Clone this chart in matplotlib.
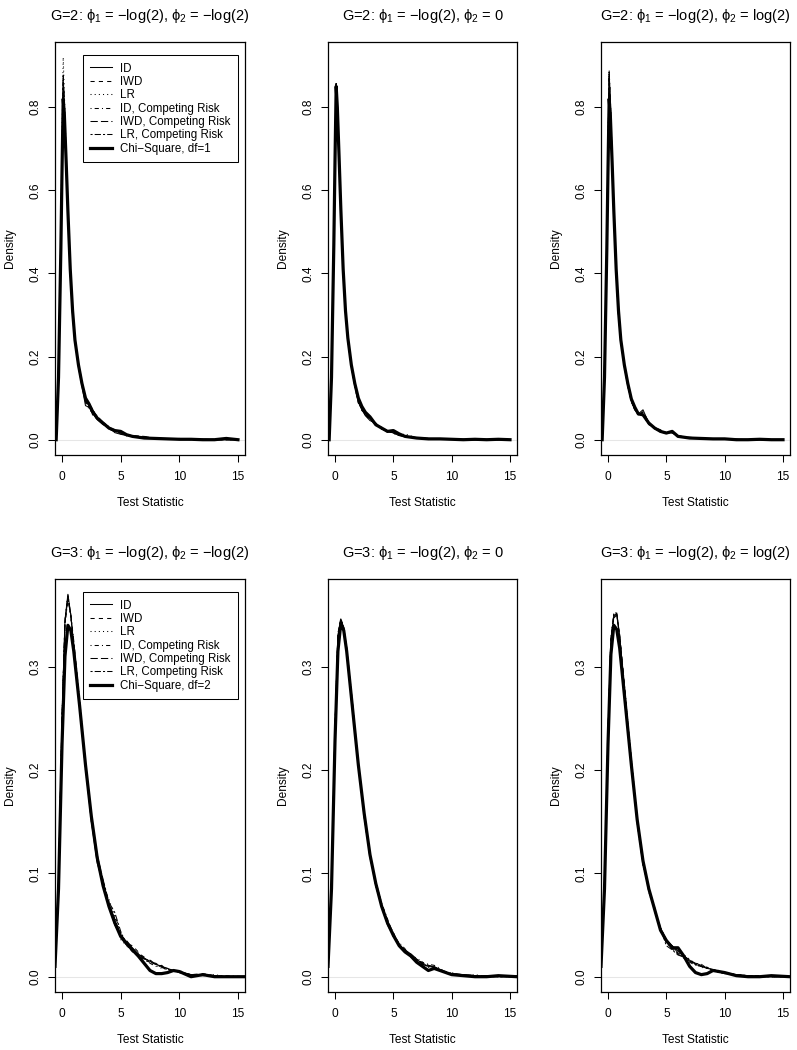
import matplotlib
matplotlib.use("Agg")
import matplotlib.pyplot as plt

# shared evaluation grids (test statistic)
X_TOP = [-0.5, -0.3, -0.1, 0.0, 0.1, 0.2, 0.35, 0.5, 0.7, 0.9, 1.1, 1.4, 1.7, 2.0, 2.3, 2.6,
         3.0, 3.5, 4.0, 4.5, 5.0, 5.5, 6.0, 7.0, 8.0, 9.0, 10.0, 11.0, 12.0, 13.0, 14.0, 15.0]
X_BOT = [-0.6, -0.3, 0.0, 0.25, 0.5, 0.75, 1.0, 1.5, 2.0, 2.5, 3.0, 3.5, 4.0, 4.5, 5.0, 5.5,
         6.0, 6.5, 7.0, 7.5, 8.0, 8.5, 9.0, 9.5, 10.0, 11.0, 12.0, 13.0, 14.0, 15.6]

SERIES_LABELS = ["ID", "IWD", "LR", "ID, Competing Risk", "IWD, Competing Risk",
                 "LR, Competing Risk"]

TITLES = [
    "G=2: $\\phi_1$ = \u2212log(2), $\\phi_2$ = \u2212log(2)",
    "G=2: $\\phi_1$ = \u2212log(2), $\\phi_2$ = 0",
    "G=2: $\\phi_1$ = \u2212log(2), $\\phi_2$ = log(2)",
    "G=3: $\\phi_1$ = \u2212log(2), $\\phi_2$ = \u2212log(2)",
    "G=3: $\\phi_1$ = \u2212log(2), $\\phi_2$ = 0",
    "G=3: $\\phi_1$ = \u2212log(2), $\\phi_2$ = log(2)",
]

# ---- G=2, phi2 = -log(2)
P1_ID = [0.00, 0.14, 0.47, 0.68, 0.86, 0.80, 0.68, 0.55, 0.40, 0.30, 0.235, 0.175, 0.128, 0.082, 0.078, 0.064,
         0.048, 0.036, 0.030, 0.017, 0.013, 0.010, 0.008, 0.006, 0.003, 0.001, 0.003, 0.001, 0.001, 0.000, 0.000, 0.000]
P1_IWD = [0.00, 0.15, 0.48, 0.69, 0.87, 0.81, 0.68, 0.54, 0.40, 0.31, 0.240, 0.180, 0.140, 0.095, 0.090, 0.070,
          0.055, 0.042, 0.025, 0.020, 0.016, 0.012, 0.010, 0.007, 0.002, 0.002, 0.002, 0.000, 0.000, 0.001, 0.000, 0.000]
P1_LR = [0.00, 0.16, 0.50, 0.74, 0.92, 0.83, 0.69, 0.55, 0.40, 0.30, 0.235, 0.180, 0.135, 0.088, 0.080, 0.075,
         0.050, 0.038, 0.032, 0.022, 0.015, 0.009, 0.008, 0.005, 0.004, 0.002, 0.001, 0.001, 0.000, 0.000, 0.000, 0.000]
P1_ID_CR = [0.00, 0.14, 0.46, 0.67, 0.85, 0.80, 0.68, 0.56, 0.41, 0.31, 0.240, 0.175, 0.130, 0.098, 0.072, 0.066,
            0.058, 0.040, 0.026, 0.025, 0.017, 0.011, 0.007, 0.006, 0.004, 0.001, 0.002, 0.002, 0.000, 0.000, 0.000, 0.000]
P1_IWD_CR = [0.00, 0.15, 0.47, 0.68, 0.86, 0.80, 0.67, 0.55, 0.41, 0.31, 0.245, 0.185, 0.140, 0.090, 0.085, 0.060,
             0.050, 0.044, 0.027, 0.020, 0.018, 0.012, 0.009, 0.008, 0.003, 0.002, 0.001, 0.001, 0.001, 0.000, 0.000, 0.000]
P1_LR_CR = [0.00, 0.15, 0.48, 0.70, 0.88, 0.81, 0.68, 0.55, 0.40, 0.30, 0.240, 0.180, 0.132, 0.092, 0.080, 0.072,
            0.054, 0.036, 0.030, 0.021, 0.014, 0.011, 0.009, 0.005, 0.004, 0.002, 0.002, 0.000, 0.001, 0.000, 0.000, 0.000]
P1_CHI = [0.00, 0.15, 0.46, 0.65, 0.82, 0.78, 0.67, 0.55, 0.41, 0.31, 0.240, 0.180, 0.135, 0.100, 0.086, 0.068,
          0.052, 0.040, 0.028, 0.022, 0.020, 0.012, 0.008, 0.004, 0.003, 0.002, 0.001, 0.001, 0.000, 0.000, 0.003, 0.000]

# ---- G=2, phi2 = 0
P2_ID = [0.00, 0.15, 0.47, 0.67, 0.855, 0.80, 0.68, 0.55, 0.41, 0.31, 0.240, 0.175, 0.130, 0.092, 0.072, 0.058,
         0.046, 0.040, 0.025, 0.022, 0.016, 0.010, 0.008, 0.005, 0.003, 0.001, 0.002, 0.000, 0.000, 0.000, 0.000, 0.000]
P2_IWD = [0.00, 0.15, 0.47, 0.68, 0.858, 0.80, 0.68, 0.55, 0.41, 0.31, 0.242, 0.178, 0.128, 0.088, 0.075, 0.062,
          0.050, 0.035, 0.028, 0.018, 0.020, 0.012, 0.007, 0.004, 0.002, 0.002, 0.001, 0.001, 0.000, 0.000, 0.000, 0.000]
P2_LR = [0.00, 0.15, 0.48, 0.68, 0.860, 0.80, 0.68, 0.55, 0.41, 0.31, 0.240, 0.176, 0.132, 0.090, 0.074, 0.060,
         0.052, 0.038, 0.026, 0.020, 0.018, 0.010, 0.014, 0.004, 0.003, 0.001, 0.001, 0.000, 0.000, 0.000, 0.000, 0.000]
P2_ID_CR = [0.00, 0.15, 0.47, 0.67, 0.852, 0.80, 0.68, 0.55, 0.41, 0.31, 0.243, 0.180, 0.134, 0.094, 0.070, 0.064,
            0.055, 0.036, 0.030, 0.021, 0.015, 0.011, 0.009, 0.005, 0.002, 0.002, 0.002, 0.001, 0.000, 0.000, 0.000, 0.000]
P2_IWD_CR = [0.00, 0.15, 0.47, 0.67, 0.856, 0.80, 0.68, 0.55, 0.41, 0.31, 0.241, 0.177, 0.131, 0.091, 0.076, 0.059,
             0.048, 0.039, 0.027, 0.019, 0.017, 0.013, 0.008, 0.005, 0.003, 0.001, 0.001, 0.001, 0.000, 0.001, 0.000, 0.000]
P2_LR_CR = [0.00, 0.15, 0.47, 0.68, 0.857, 0.80, 0.68, 0.55, 0.41, 0.31, 0.240, 0.176, 0.129, 0.089, 0.073, 0.061,
            0.051, 0.037, 0.026, 0.022, 0.016, 0.010, 0.008, 0.004, 0.003, 0.002, 0.001, 0.000, 0.000, 0.000, 0.000, 0.000]
P2_CHI = [0.00, 0.15, 0.47, 0.67, 0.850, 0.80, 0.68, 0.555, 0.41, 0.31, 0.245, 0.180, 0.135, 0.100, 0.080, 0.066,
          0.055, 0.036, 0.028, 0.020, 0.022, 0.014, 0.008, 0.004, 0.002, 0.002, 0.001, 0.000, 0.001, 0.000, 0.001, 0.000]

# ---- G=2, phi2 = log(2)
P3_ID = [0.00, 0.15, 0.48, 0.70, 0.88, 0.81, 0.68, 0.55, 0.40, 0.30, 0.235, 0.175, 0.128, 0.095, 0.072, 0.062,
         0.072, 0.040, 0.028, 0.018, 0.016, 0.020, 0.009, 0.005, 0.003, 0.002, 0.001, 0.001, 0.000, 0.000, 0.000, 0.000]
P3_IWD = [0.00, 0.15, 0.48, 0.70, 0.885, 0.81, 0.68, 0.55, 0.40, 0.30, 0.238, 0.178, 0.130, 0.090, 0.075, 0.058,
          0.068, 0.042, 0.026, 0.020, 0.018, 0.016, 0.010, 0.004, 0.003, 0.002, 0.001, 0.000, 0.000, 0.000, 0.000, 0.000]
P3_LR = [0.00, 0.16, 0.49, 0.71, 0.89, 0.82, 0.69, 0.55, 0.40, 0.30, 0.236, 0.176, 0.132, 0.092, 0.078, 0.060,
         0.062, 0.038, 0.030, 0.022, 0.015, 0.018, 0.008, 0.005, 0.002, 0.001, 0.002, 0.000, 0.000, 0.000, 0.000, 0.000]
P3_ID_CR = [0.00, 0.15, 0.47, 0.69, 0.87, 0.81, 0.68, 0.55, 0.41, 0.30, 0.240, 0.180, 0.134, 0.096, 0.070, 0.064,
            0.058, 0.036, 0.029, 0.024, 0.014, 0.019, 0.007, 0.006, 0.003, 0.002, 0.001, 0.001, 0.000, 0.000, 0.000, 0.000]
P3_IWD_CR = [0.00, 0.15, 0.48, 0.70, 0.88, 0.81, 0.68, 0.55, 0.40, 0.30, 0.237, 0.177, 0.129, 0.093, 0.074, 0.060,
             0.066, 0.041, 0.027, 0.019, 0.017, 0.017, 0.009, 0.004, 0.002, 0.001, 0.001, 0.001, 0.000, 0.000, 0.000, 0.000]
P3_LR_CR = [0.00, 0.15, 0.48, 0.70, 0.875, 0.81, 0.68, 0.55, 0.40, 0.30, 0.239, 0.179, 0.131, 0.094, 0.073, 0.063,
            0.060, 0.039, 0.028, 0.021, 0.016, 0.018, 0.008, 0.005, 0.003, 0.002, 0.001, 0.000, 0.000, 0.000, 0.000, 0.000]
P3_CHI = [0.00, 0.15, 0.46, 0.65, 0.82, 0.78, 0.67, 0.55, 0.41, 0.31, 0.240, 0.180, 0.135, 0.098, 0.078, 0.062,
          0.060, 0.040, 0.028, 0.020, 0.016, 0.020, 0.008, 0.004, 0.003, 0.002, 0.002, 0.000, 0.000, 0.001, 0.000, 0.000]

# ---- G=3, phi2 = -log(2)
P4_ID = [0.012, 0.090, 0.250, 0.345, 0.370, 0.350, 0.320, 0.262, 0.203, 0.150, 0.110, 0.090, 0.068, 0.050, 0.040,
         0.034, 0.028, 0.022, 0.018, 0.015, 0.012, 0.010, 0.008, 0.006, 0.005, 0.002, 0.002, 0.001, 0.000, 0.000]
P4_IWD = [0.012, 0.090, 0.248, 0.342, 0.368, 0.350, 0.322, 0.265, 0.205, 0.152, 0.112, 0.092, 0.072, 0.055, 0.038,
          0.032, 0.030, 0.024, 0.016, 0.014, 0.013, 0.009, 0.007, 0.006, 0.004, 0.002, 0.003, 0.001, 0.000, 0.000]
P4_LR = [0.012, 0.092, 0.252, 0.346, 0.370, 0.348, 0.318, 0.260, 0.200, 0.155, 0.112, 0.086, 0.075, 0.058, 0.036,
         0.030, 0.027, 0.021, 0.017, 0.016, 0.011, 0.008, 0.007, 0.005, 0.006, 0.001, 0.001, 0.002, 0.000, 0.000]
P4_ID_CR = [0.011, 0.088, 0.245, 0.340, 0.365, 0.350, 0.325, 0.268, 0.206, 0.150, 0.118, 0.094, 0.066, 0.060, 0.042,
            0.030, 0.025, 0.023, 0.019, 0.013, 0.010, 0.011, 0.006, 0.005, 0.005, 0.001, 0.002, 0.000, 0.001, 0.000]
P4_IWD_CR = [0.012, 0.090, 0.250, 0.343, 0.367, 0.349, 0.321, 0.263, 0.204, 0.153, 0.114, 0.089, 0.070, 0.056, 0.040,
             0.035, 0.028, 0.020, 0.017, 0.016, 0.012, 0.010, 0.007, 0.006, 0.004, 0.002, 0.002, 0.001, 0.000, 0.000]
P4_LR_CR = [0.012, 0.090, 0.250, 0.344, 0.368, 0.349, 0.320, 0.262, 0.202, 0.156, 0.116, 0.094, 0.072, 0.062, 0.044,
            0.031, 0.024, 0.022, 0.018, 0.014, 0.012, 0.009, 0.008, 0.005, 0.005, 0.002, 0.001, 0.001, 0.000, 0.000]
P4_CHI = [0.010, 0.085, 0.225, 0.310, 0.340, 0.335, 0.315, 0.262, 0.205, 0.155, 0.115, 0.088, 0.068, 0.052, 0.039,
          0.032, 0.026, 0.020, 0.013, 0.006, 0.003, 0.003, 0.004, 0.006, 0.005, 0.000, 0.002, 0.000, 0.000, 0.000]

# ---- G=3, phi2 = 0
P5_ID = [0.011, 0.088, 0.240, 0.330, 0.345, 0.338, 0.318, 0.262, 0.206, 0.156, 0.117, 0.088, 0.068, 0.050, 0.040,
         0.030, 0.026, 0.022, 0.017, 0.012, 0.010, 0.009, 0.007, 0.004, 0.003, 0.002, 0.001, 0.000, 0.000, 0.000]
P5_IWD = [0.011, 0.088, 0.242, 0.332, 0.347, 0.337, 0.316, 0.260, 0.204, 0.155, 0.118, 0.090, 0.070, 0.055, 0.042,
          0.032, 0.024, 0.020, 0.015, 0.013, 0.011, 0.010, 0.006, 0.005, 0.003, 0.001, 0.001, 0.001, 0.000, 0.000]
P5_LR = [0.011, 0.088, 0.240, 0.331, 0.346, 0.338, 0.317, 0.263, 0.207, 0.157, 0.116, 0.087, 0.069, 0.052, 0.041,
         0.031, 0.025, 0.021, 0.018, 0.014, 0.009, 0.008, 0.007, 0.004, 0.004, 0.001, 0.002, 0.000, 0.000, 0.000]
P5_ID_CR = [0.011, 0.087, 0.238, 0.328, 0.344, 0.338, 0.319, 0.265, 0.208, 0.155, 0.115, 0.092, 0.071, 0.056, 0.038,
            0.033, 0.027, 0.019, 0.016, 0.014, 0.012, 0.011, 0.008, 0.004, 0.002, 0.002, 0.001, 0.000, 0.001, 0.000]
P5_IWD_CR = [0.011, 0.088, 0.241, 0.331, 0.346, 0.337, 0.317, 0.261, 0.205, 0.156, 0.119, 0.089, 0.069, 0.053, 0.043,
             0.030, 0.026, 0.021, 0.016, 0.012, 0.010, 0.010, 0.006, 0.005, 0.003, 0.001, 0.001, 0.001, 0.000, 0.001]
P5_LR_CR = [0.011, 0.088, 0.240, 0.330, 0.345, 0.337, 0.318, 0.264, 0.206, 0.154, 0.116, 0.091, 0.067, 0.054, 0.040,
            0.032, 0.024, 0.022, 0.017, 0.013, 0.011, 0.009, 0.007, 0.004, 0.003, 0.002, 0.001, 0.000, 0.000, 0.000]
P5_CHI = [0.010, 0.085, 0.228, 0.315, 0.342, 0.335, 0.315, 0.260, 0.205, 0.158, 0.118, 0.090, 0.068, 0.052, 0.040,
          0.030, 0.024, 0.020, 0.014, 0.010, 0.006, 0.008, 0.006, 0.004, 0.002, 0.001, 0.000, 0.000, 0.001, 0.000]

# ---- G=3, phi2 = log(2)
P6_ID = [0.011, 0.086, 0.235, 0.325, 0.348, 0.352, 0.330, 0.268, 0.208, 0.150, 0.110, 0.084, 0.064, 0.047, 0.036,
         0.030, 0.025, 0.020, 0.016, 0.012, 0.010, 0.008, 0.007, 0.005, 0.004, 0.002, 0.001, 0.000, 0.000, 0.000]
P6_IWD = [0.011, 0.086, 0.236, 0.326, 0.350, 0.350, 0.328, 0.266, 0.210, 0.152, 0.112, 0.086, 0.066, 0.045, 0.034,
          0.028, 0.022, 0.018, 0.015, 0.013, 0.011, 0.009, 0.006, 0.005, 0.004, 0.002, 0.001, 0.001, 0.000, 0.000]
P6_LR = [0.011, 0.087, 0.238, 0.328, 0.352, 0.352, 0.327, 0.270, 0.212, 0.155, 0.110, 0.082, 0.063, 0.048, 0.035,
         0.029, 0.024, 0.021, 0.017, 0.012, 0.009, 0.008, 0.007, 0.006, 0.004, 0.001, 0.001, 0.000, 0.000, 0.000]
P6_ID_CR = [0.011, 0.085, 0.234, 0.324, 0.347, 0.350, 0.331, 0.272, 0.206, 0.148, 0.108, 0.086, 0.067, 0.044, 0.033,
            0.027, 0.022, 0.019, 0.014, 0.011, 0.010, 0.009, 0.006, 0.004, 0.003, 0.002, 0.001, 0.001, 0.000, 0.000]
P6_IWD_CR = [0.011, 0.086, 0.236, 0.327, 0.350, 0.351, 0.329, 0.267, 0.209, 0.153, 0.111, 0.083, 0.065, 0.046, 0.034,
             0.030, 0.023, 0.020, 0.016, 0.013, 0.012, 0.008, 0.007, 0.005, 0.004, 0.001, 0.001, 0.000, 0.000, 0.000]
P6_LR_CR = [0.011, 0.086, 0.237, 0.327, 0.351, 0.351, 0.328, 0.268, 0.207, 0.151, 0.109, 0.085, 0.064, 0.047, 0.030,
            0.026, 0.021, 0.019, 0.015, 0.012, 0.010, 0.009, 0.006, 0.005, 0.003, 0.002, 0.001, 0.000, 0.000, 0.000]
P6_CHI = [0.010, 0.085, 0.225, 0.312, 0.340, 0.336, 0.318, 0.262, 0.205, 0.152, 0.112, 0.085, 0.065, 0.045, 0.035,
          0.028, 0.028, 0.020, 0.010, 0.004, 0.002, 0.003, 0.006, 0.005, 0.004, 0.001, 0.000, 0.000, 0.001, 0.000]

PANELS = [
    (X_TOP, [P1_ID, P1_IWD, P1_LR, P1_ID_CR, P1_IWD_CR, P1_LR_CR], P1_CHI, "Chi\u2212Square, df=1"),
    (X_TOP, [P2_ID, P2_IWD, P2_LR, P2_ID_CR, P2_IWD_CR, P2_LR_CR], P2_CHI, "Chi\u2212Square, df=1"),
    (X_TOP, [P3_ID, P3_IWD, P3_LR, P3_ID_CR, P3_IWD_CR, P3_LR_CR], P3_CHI, "Chi\u2212Square, df=1"),
    (X_BOT, [P4_ID, P4_IWD, P4_LR, P4_ID_CR, P4_IWD_CR, P4_LR_CR], P4_CHI, "Chi\u2212Square, df=2"),
    (X_BOT, [P5_ID, P5_IWD, P5_LR, P5_ID_CR, P5_IWD_CR, P5_LR_CR], P5_CHI, "Chi\u2212Square, df=2"),
    (X_BOT, [P6_ID, P6_IWD, P6_LR, P6_ID_CR, P6_IWD_CR, P6_LR_CR], P6_CHI, "Chi\u2212Square, df=2"),
]

# R style line types: solid, dashed, dotted, dotdash, longdash, twodash
LINESTYLES = ["-", (0, (4, 4)), (0, (1, 3)), (0, (1, 3, 4, 3)), (0, (7, 3)), (0, (2, 2, 6, 2))]

W, H = 797, 1050
COL_LEFT = [55, 328, 601]
COL_RIGHT = [245, 517, 790]
ROW_TOP = [42, 579]
ROW_BOTTOM = [455, 992]


def make_figure():
    plt.rcParams["font.family"] = ["Liberation Sans", "DejaVu Sans"]
    plt.rcParams["mathtext.fontset"] = "custom"
    plt.rcParams["mathtext.rm"] = "Liberation Sans"
    plt.rcParams["mathtext.it"] = "Liberation Sans"
    plt.rcParams["mathtext.fallback"] = "stixsans"
    plt.rcParams["axes.unicode_minus"] = True

    fig = plt.figure(figsize=(W / 100, H / 100), dpi=100, facecolor="white")

    for i, (xs, curves, chi, chi_label) in enumerate(PANELS):
        row, col = divmod(i, 3)
        l, r = COL_LEFT[col], COL_RIGHT[col]
        t, b = ROW_TOP[row], ROW_BOTTOM[row]
        ax = fig.add_axes((l / W, 1 - b / H, (r - l) / W, (b - t) / H))

        ax.axhline(0, color="#e6e6e6", lw=0.75, zorder=0)
        for ys, lab, ls in zip(curves, SERIES_LABELS, LINESTYLES):
            ax.plot(xs, ys, color="black", lw=0.75, linestyle=ls, label=lab)
        ax.plot(xs, chi, color="black", lw=2.3, label=chi_label,
                solid_joinstyle="round")

        ax.set_xlim(-0.6, 15.6)
        if row == 0:
            ax.set_ylim(-0.0368, 0.9568)
            ax.set_yticks([0.0, 0.2, 0.4, 0.6, 0.8])
            ax.set_yticklabels(["0.0", "0.2", "0.4", "0.6", "0.8"])
        else:
            ax.set_ylim(-0.0148, 0.3848)
            ax.set_yticks([0.0, 0.1, 0.2, 0.3])
            ax.set_yticklabels(["0.0", "0.1", "0.2", "0.3"])
        ax.set_xticks([0, 5, 10, 15])

        ax.tick_params(direction="out", length=5, width=0.75, labelsize=8.6)
        ax.tick_params(axis="x", pad=6.5)
        ax.tick_params(axis="y", pad=5)
        for lab in ax.get_yticklabels():
            lab.set_rotation(90)
            lab.set_va("center")
        for spine in ax.spines.values():
            spine.set_linewidth(0.9)

        fig.text((l + r) / 2 / W, 1 - (t - 22) / H, TITLES[i],
                 ha="center", va="baseline", fontsize=10.5)
        fig.text((l + r) / 2 / W, 1 - (b + 48) / H, "Test Statistic",
                 ha="center", va="center", fontsize=8.6)
        fig.text((l - 45) / W, 1 - (t + b) / 2 / H, "Density",
                 ha="center", va="center", rotation=90, fontsize=8.6)

        if col == 0:
            leg = ax.legend(loc="upper left", bbox_to_anchor=(0.147, 0.9685),
                            fontsize=8.3, frameon=True, fancybox=False,
                            framealpha=1, edgecolor="black",
                            handlelength=1.9, handletextpad=0.7,
                            labelspacing=0.12, borderpad=0.65,
                            borderaxespad=0)
            leg.get_frame().set_linewidth(0.75)

    fig.savefig("out.png", dpi=100, facecolor="white")
    plt.close(fig)


def main():
    make_figure()


if __name__ == "__main__":
    main()
